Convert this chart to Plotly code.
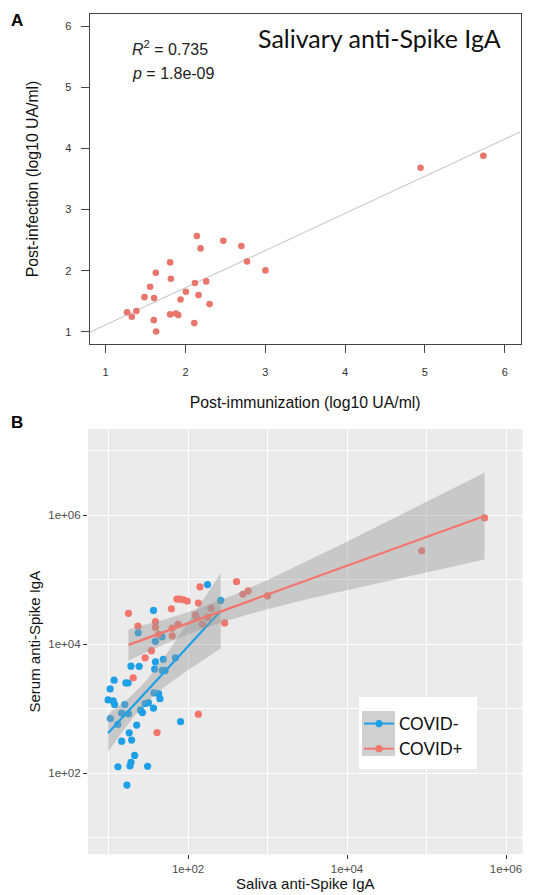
import numpy as np
import plotly.graph_objects as go

# ---------------- Panel A data (log10 UA/ml) ----------------
post_immunization = [1.268, 1.327, 1.385, 1.486, 1.557, 1.607, 1.603, 1.628, 1.632,
                     1.808, 1.817, 1.808, 1.879, 1.909, 1.938, 2.005, 2.118, 2.110,
                     2.143, 2.164, 2.189, 2.260, 2.302, 2.474, 2.700, 2.771, 3.002,
                     4.945, 5.732]
post_infection = [1.320, 1.245, 1.340, 1.567, 1.736, 1.551, 1.190, 1.966, 1.005,
                  2.135, 1.867, 1.284, 1.300, 1.273, 1.529, 1.655, 1.797, 1.142,
                  2.566, 1.600, 2.364, 1.824, 1.453, 2.489, 2.402, 2.151, 2.004,
                  3.684, 3.880]
r2_text = "0.735"
p_text = "1.8e-09"
ticks_A = [1, 2, 3, 4, 5, 6]

# ---------------- Panel B data (log10 of values) ----------------
neg_saliva_log10 = [2.245, 2.410, 1.565, 1.373, 1.589, 1.673, 1.840, 1.688, 1.590, 1.580,
                    1.678, 1.710, 1.282, 1.385, 1.070, 1.218, 1.247, 1.020, 0.994, 1.059,
                    1.076, 1.204, 1.572, 1.630, 1.646, 1.459, 1.501, 1.565, 1.402, 1.426,
                    1.165, 1.250, 1.022, 1.116, 1.354, 1.906, 1.260, 1.165, 1.290, 1.328,
                    1.282, 1.270, 1.118, 1.491, 1.231]
neg_serum_log10 = [4.925, 4.680, 4.525, 4.178, 4.045, 4.115, 3.790, 3.765, 3.725, 3.614,
                   3.593, 3.590, 3.660, 3.657, 3.442, 3.400, 3.398, 3.306, 3.135, 3.120,
                   3.065, 3.065, 3.245, 3.232, 3.155, 3.080, 3.093, 3.007, 2.980, 2.940,
                   2.930, 2.918, 2.846, 2.755, 2.745, 2.798, 2.625, 2.495, 2.513, 2.275,
                   2.168, 2.110, 2.097, 2.105, 1.815]
pos_saliva_log10 = [1.250, 1.370, 1.310, 1.460, 1.540, 1.590, 1.590, 1.630, 1.610, 1.790,
                    1.800, 1.800, 1.875, 1.860, 1.900, 1.940, 1.990, 2.090, 2.105, 2.130,
                    2.150, 2.180, 2.250, 2.290, 2.460, 2.130, 2.610, 2.690, 2.756, 3.000,
                    4.940, 5.730]
pos_serum_log10 = [4.480, 4.280, 3.480, 3.790, 3.900, 4.350, 4.260, 4.155, 2.630, 4.550,
                   4.250, 4.130, 4.310, 4.700, 4.700, 4.690, 4.670, 4.455, 4.410, 4.640,
                   4.890, 4.310, 4.420, 4.560, 4.330, 2.915, 4.970, 4.775, 4.827, 4.750,
                   5.450, 5.960]
groups = ["COVID-", "COVID+"]
ticks_B = [1e2, 1e4, 1e6]
ticks_B_text = ["1e+02", "1e+04", "1e+06"]
minor_B_x = [1e1, 1e3, 1e5]
minor_B_y = [1e1, 1e3, 1e5, 1e7]

# ---------------- helpers ----------------
def t975(df):
    z = 1.959964
    return z + (z**3 + z) / (4 * df) + (5 * z**5 + 16 * z**3 + 3 * z) / (96 * df**2)


def lm_band(lx, ly, n=100):
    lx = np.asarray(lx, float)
    ly = np.asarray(ly, float)
    b, a = np.polyfit(lx, ly, 1)
    xs = np.linspace(lx.min(), lx.max(), n)
    yhat = a + b * xs
    resid = ly - (a + b * lx)
    N = len(lx)
    s = np.sqrt(np.sum(resid**2) / (N - 2))
    sxx = np.sum((lx - lx.mean())**2)
    se = s * np.sqrt(1.0 / N + (xs - lx.mean())**2 / sxx)
    t = t975(N - 2)
    return xs, yhat, yhat - t * se, yhat + t * se


def gapped(vals):
    out = []
    for v in vals:
        out += [v, None]
    return out


# the page body has an 8px margin; figure is sized so it ends at the window edge
OFF = 8
W, H = 545 - OFF, 895 - OFF
RED_A = "#E9766C"
RED = "#F3766D"
BLUE = "#1EA0E6"
RIBBON = "rgba(153,153,153,0.42)"
ARIAL = "Liberation Sans, Arial, sans-serif"
CAL = "Lato, Open Sans, sans-serif"


def px2x(p):
    return (p - OFF) / W


def px2y(p):
    return 1 - (p - OFF) / H


fig = go.Figure()

# ---------------- Panel A ----------------
rngA = [0.8, 6.2]
bA, aA = np.polyfit(post_immunization, post_infection, 1)
fig.add_trace(go.Scatter(x=rngA, y=[aA + bA * v for v in rngA], mode="lines",
                         line=dict(color="#C9C9C9", width=1.1), showlegend=False,
                         xaxis="x", yaxis="y", hoverinfo="skip"))
fig.add_trace(go.Scatter(x=post_immunization, y=post_infection, mode="markers",
                         marker=dict(color=RED_A, size=6.6), showlegend=False,
                         xaxis="x", yaxis="y"))

# ---------------- Panel B ----------------
neg_x = [10**v for v in neg_saliva_log10]
neg_y = [10**v for v in neg_serum_log10]
pos_x = [10**v for v in pos_saliva_log10]
pos_y = [10**v for v in pos_serum_log10]

fig.add_trace(go.Scatter(x=gapped(neg_x), y=gapped(neg_y), mode="lines+markers",
                         connectgaps=False, name=groups[0],
                         marker=dict(color=BLUE, size=7.2), line=dict(color=BLUE, width=2),
                         xaxis="x2", yaxis="y2"))
fig.add_trace(go.Scatter(x=gapped(pos_x), y=gapped(pos_y), mode="lines+markers",
                         connectgaps=False, name=groups[1],
                         marker=dict(color=RED, size=7.2), line=dict(color=RED, width=2),
                         xaxis="x2", yaxis="y2"))

for lx, ly, col in [(neg_saliva_log10, neg_serum_log10, BLUE),
                    (pos_saliva_log10, pos_serum_log10, RED)]:
    xs, yhat, lo, hi = lm_band(lx, ly)
    px = np.concatenate([xs, xs[::-1]])
    py = np.concatenate([hi, lo[::-1]])
    fig.add_trace(go.Scatter(x=10**px, y=10**py, fill="toself", fillcolor=RIBBON,
                             mode="lines", line=dict(width=0), showlegend=False,
                             hoverinfo="skip", xaxis="x2", yaxis="y2"))
    fig.add_trace(go.Scatter(x=10**xs, y=10**yhat, mode="lines",
                             line=dict(color=col, width=2.2), showlegend=False,
                             hoverinfo="skip", xaxis="x2", yaxis="y2"))

# ---------------- layout ----------------
axA_common = dict(showgrid=False, zeroline=False, showline=True, linecolor="#454545",
                  linewidth=1.3, mirror=True, ticks="outside", ticklen=8,
                  tickcolor="#454545", tickwidth=1,
                  tickfont=dict(family=ARIAL, size=11, color="#333333"),
                  automargin=False)

fig.update_layout(
    width=W, height=H,
    margin=dict(l=0, r=0, t=0, b=0),
    paper_bgcolor="white", plot_bgcolor="white",
    xaxis=dict(domain=[px2x(89.7), px2x(520.7)], range=rngA, tickvals=ticks_A,
               ticklabelstandoff=10,
               title=dict(text="Post-immunization (log10 UA/ml)",
                          font=dict(family=ARIAL, size=15.8, color="#111111"), standoff=19),
               anchor="y", **axA_common),
    yaxis=dict(domain=[px2y(344), px2y(14)], range=rngA, tickvals=ticks_A,
               ticklabelstandoff=7,
               title=dict(text="Post-infection (log10 UA/ml)",
                          font=dict(family=ARIAL, size=15.8, color="#111111"), standoff=22),
               anchor="x", **axA_common),
    xaxis2=dict(domain=[px2x(87.9), px2x(522.7)], type="log", range=[0.74, 6.21],
                tickvals=ticks_B, ticktext=ticks_B_text, showgrid=True,
                gridcolor="white", gridwidth=1.4, zeroline=False, showline=False,
                ticks="outside", ticklen=4, tickcolor="#333333", tickwidth=1,
                tickfont=dict(family=ARIAL, size=11.5, color="#4D4D4D"),
                minor=dict(tickvals=minor_B_x, showgrid=True, gridcolor="white",
                           gridwidth=0.7, ticks=""),
                title=dict(text="Saliva anti-Spike IgA",
                           font=dict(family=ARIAL, size=15, color="#111111"), standoff=3),
                anchor="y2", automargin=False),
    yaxis2=dict(domain=[px2y(854.3), px2y(429)], type="log", range=[0.74, 7.34],
                tickvals=ticks_B, ticktext=ticks_B_text, showgrid=True,
                gridcolor="white", gridwidth=1.4, zeroline=False, showline=False,
                ticks="outside", ticklen=4, tickcolor="#333333", tickwidth=1,
                tickfont=dict(family=ARIAL, size=11.5, color="#4D4D4D"),
                minor=dict(tickvals=minor_B_y, showgrid=True, gridcolor="white",
                           gridwidth=0.7, ticks=""),
                title=dict(text="Serum anti-Spike IgA",
                           font=dict(family=ARIAL, size=15, color="#111111"), standoff=4),
                anchor="x2", automargin=False),
    legend=dict(x=px2x(359), y=px2y(706), xanchor="left", yanchor="top",
                bgcolor="rgba(0,0,0,0)", borderwidth=0,
                font=dict(family=CAL, size=17, color="#111111"),
                tracegroupgap=0, itemwidth=30),
    shapes=[
        dict(type="rect", xref="x2 domain", yref="y2 domain", x0=0, x1=1, y0=0, y1=1,
             fillcolor="#EBEBEB", line=dict(width=0), layer="below"),
        dict(type="rect", xref="paper", yref="paper", x0=px2x(359), x1=px2x(477),
             y0=px2y(769), y1=px2y(697), fillcolor="white", line=dict(width=0),
             layer="above"),
        dict(type="rect", xref="paper", yref="paper", x0=px2x(362), x1=px2x(395),
             y0=px2y(756), y1=px2y(711), fillcolor="#D0D0D0", line=dict(width=0),
             layer="above"),
    ],
    annotations=[
        dict(text="<b>A</b>", x=px2x(16.8), y=px2y(20.7), xref="paper", yref="paper",
             showarrow=False, xanchor="center", yanchor="middle",
             font=dict(family=ARIAL, size=17, color="black")),
        dict(text="<b>B</b>", x=px2x(17.0), y=px2y(422.7), xref="paper", yref="paper",
             showarrow=False, xanchor="center", yanchor="middle",
             font=dict(family=ARIAL, size=17, color="black")),
        dict(text="<i>R</i><sup>2</sup> = " + r2_text, x=px2x(129.5), y=px2y(48.3),
             xref="paper", yref="paper", showarrow=False, xanchor="left",
             yanchor="middle", font=dict(family=ARIAL, size=16, color="#222222")),
        dict(text="<i>p</i> = " + p_text, x=px2x(129.5), y=px2y(74), xref="paper",
             yref="paper", showarrow=False, xanchor="left", yanchor="middle",
             font=dict(family=ARIAL, size=16, color="#222222")),
        dict(text="Salivary anti-Spike IgA", x=px2x(502.8), y=px2y(38.3), xref="paper",
             yref="paper", showarrow=False, xanchor="right", yanchor="middle",
             font=dict(family=CAL, size=25, color="#111111")),
    ],
)

fig.write_html("out.html")
